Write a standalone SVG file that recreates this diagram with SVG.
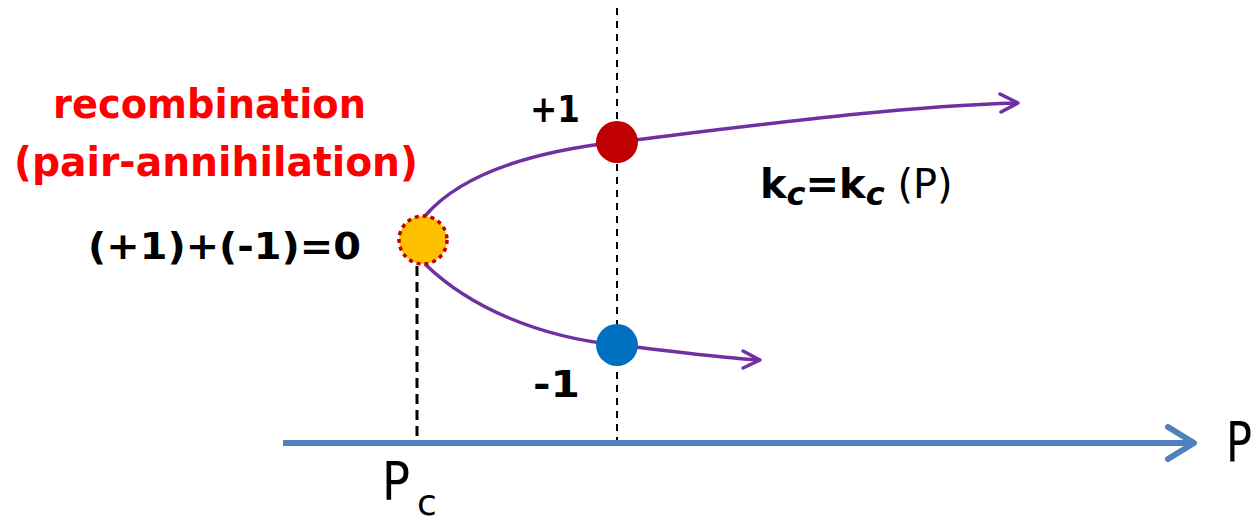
<svg xmlns="http://www.w3.org/2000/svg" width="1258" height="522" viewBox="0 0 1258 522">
<style>
.t{font-family:"DejaVu Sans","Liberation Sans",sans-serif;font-weight:bold;}
.n{font-family:"DejaVu Sans","Liberation Sans",sans-serif;}
.red{fill:#FF0000;font-size:40px;}
.blk{fill:#000;font-size:38px;}
.curve{fill:none;stroke:#7030A0;stroke-width:3.5;}
.ah{fill:none;stroke:#7030A0;stroke-width:3.5;stroke-linecap:round;stroke-linejoin:round;}
</style>
<rect width="1258" height="522" fill="#fff"/>
<g id="connectors">
  <line x1="617" y1="8" x2="617" y2="443" stroke="#000" stroke-width="2" stroke-dasharray="7,6"/>
  <line x1="417" y1="266" x2="417" y2="445" stroke="#000" stroke-width="3" stroke-dasharray="10,6"/>
  <line x1="283" y1="443" x2="1192" y2="443" stroke="#4F81BD" stroke-width="6"/>
  <polyline points="1168,427 1194,443 1168,459" fill="none" stroke="#4F81BD" stroke-width="6" stroke-linecap="round" stroke-linejoin="round"/>
  <path class="curve" d="M425 216 C460 175 530 152 617 142 C750 126 900 106 1017 103"/>
  <polyline class="ah" points="1000,94 1018,103 1001,112"/>
  <path class="curve" d="M425 264 C470 308 540 337 617 345 C680 352 720 358 760 360"/>
  <polyline class="ah" points="743,351 760,360 743,368"/>
</g>
<g id="node-fold">
  <circle cx="423" cy="240" r="24" fill="#FFC000" stroke="#C00000" stroke-width="3.5" stroke-dasharray="4,4"/>
</g>
<g id="node-plus">
  <circle cx="617" cy="142" r="21" fill="#C00000"/>
</g>
<g id="node-minus">
  <circle cx="617" cy="345" r="21" fill="#0070C0"/>
</g>
<g id="labels">
  <text class="t red" x="53" y="118" textLength="313" lengthAdjust="spacingAndGlyphs">recombination</text>
  <text class="t red" x="14" y="176" textLength="404" lengthAdjust="spacingAndGlyphs">(pair-annihilation)</text>
  <text class="t blk" x="88" y="259" textLength="273" lengthAdjust="spacingAndGlyphs">(+1)+(-1)=0</text>
  <text class="t blk" x="530" y="122" textLength="50" lengthAdjust="spacingAndGlyphs">+1</text>
  <text class="t blk" x="533" y="397" textLength="47" lengthAdjust="spacingAndGlyphs">-1</text>
  <text class="t" x="760" y="198" font-size="40" fill="#000">k<tspan font-size="32" font-style="italic" dy="7">c</tspan><tspan dy="-7">=k</tspan><tspan font-size="32" font-style="italic" dy="7">c</tspan><tspan dy="-7" font-weight="normal"> (P)</tspan></text>
  <text class="n" x="1226" y="461" font-size="56" fill="#000" textLength="26" lengthAdjust="spacingAndGlyphs">P</text>
  <text class="n" x="382" y="500" font-size="54" fill="#000" textLength="28" lengthAdjust="spacingAndGlyphs">P</text>
  <text class="n" x="417" y="515" font-size="36" fill="#000">c</text>
</g>
</svg>
